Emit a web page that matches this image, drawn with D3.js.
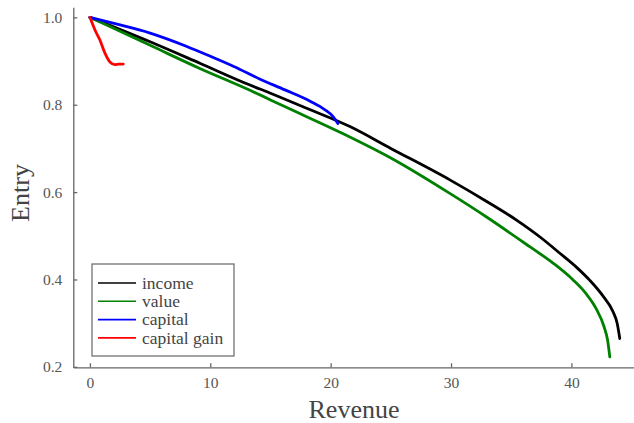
<!DOCTYPE html>
<html>
<head>
<meta charset="utf-8">
<script src="https://cdn.jsdelivr.net/npm/d3@7"></script>
<style>
  body { margin: 0; background: #fff; }
  svg { display: block; font-family: "Liberation Serif", "Times New Roman", serif; }
  .axis path, .axis line { stroke: #666; stroke-width: 1.3; }
</style>
</head>
<body>
<svg id="chart" width="634" height="423"></svg>
<script>
// series values
var incomeX = [0, 5, 9.13, 13.3, 14.95, 18, 21.6, 25, 29.9, 33, 35.44, 37.5, 39.04, 40.5, 41.53, 42.6, 43.46, 43.8, 44.02];
var incomeY = [1.0, 0.944, 0.895, 0.845, 0.827, 0.792, 0.750, 0.700, 0.628, 0.578, 0.536, 0.495, 0.460, 0.426, 0.398, 0.363, 0.326, 0.300, 0.265];

var valueX = [0, 5, 9.13, 13.3, 16, 21.3, 25, 29.9, 32.95, 36.54, 38.5, 40.14, 41.2, 42.08, 42.7, 43.0, 43.19];
var valueY = [1.0, 0.936, 0.883, 0.833, 0.798, 0.730, 0.678, 0.597, 0.543, 0.475, 0.437, 0.399, 0.368, 0.332, 0.293, 0.262, 0.223];

var capitalX = [0, 2, 5, 8, 10, 12, 14.1, 16.2, 18.3, 19.5, 20.2, 20.6];
var capitalY = [1.0, 0.986, 0.964, 0.934, 0.911, 0.887, 0.859, 0.834, 0.808, 0.789, 0.773, 0.757];

var gainX = [0, 0.42, 0.83, 1.25, 1.66, 2.08, 2.4, 2.77];
var gainY = [1.0, 0.971, 0.948, 0.918, 0.898, 0.892, 0.893, 0.893];

var seriesNames = ["income", "value", "capital", "capital gain"];
var seriesColors = ["#000000", "#008000", "#0000ff", "#ff0000"];
var xTicks = [0, 10, 20, 30, 40];
var yTicks = [0.2, 0.4, 0.6, 0.8, 1.0];

var svg = d3.select("#chart");

var xScale = d3.scaleLinear().domain([-1.38, 45.2]).range([73.3, 634]);
var yScale = d3.scaleLinear().domain([0.199, 1.023]).range([367.3, 7.3]);

function zip(xs, ys) {
    return xs.map(function(x, i) { return { x: x, y: ys[i] }; });
}
var series = [
    zip(incomeX, incomeY),
    zip(valueX, valueY),
    zip(capitalX, capitalY),
    zip(gainX, gainY)
];

// axes
var xAxis = d3.axisBottom(xScale).tickValues(xTicks).tickFormat(d3.format("d"))
    .tickSizeInner(-4).tickSizeOuter(0).tickPadding(10);
var gx = svg.append("g")
    .attr("class", "axis x-axis")
    .attr("transform", "translate(0," + yScale.range()[0] + ")")
    .call(xAxis);

var yAxis = d3.axisLeft(yScale).tickValues(yTicks).tickFormat(d3.format(".1f"))
    .tickSizeInner(-4).tickSizeOuter(0).tickPadding(11);
var gy = svg.append("g")
    .attr("class", "axis y-axis")
    .attr("transform", "translate(" + xScale.range()[0] + ",0)")
    .call(yAxis);

[gx, gy].forEach(function(g) {
    g.attr("font-family", null).attr("font-size", null);
    g.selectAll("text")
        .style("font-family", "'Liberation Serif', serif")
        .style("font-size", "15.5px")
        .style("fill", "#555");
});

// lines
var line = d3.line()
    .x(function(d) { return xScale(d.x); })
    .y(function(d) { return yScale(d.y); })
    .curve(d3.curveMonotoneX);

series.forEach(function(s, i) {
    svg.append("path")
        .datum(s)
        .attr("fill", "none")
        .attr("stroke", seriesColors[i])
        .attr("stroke-width", 2.8)
        .attr("stroke-linejoin", "round")
        .attr("stroke-linecap", "round")
        .attr("d", line);
});

// axis titles
svg.append("text")
    .attr("x", 354).attr("y", 418)
    .attr("text-anchor", "middle")
    .attr("fill", "#444")
    .style("font-size", "26px")
    .text("Revenue");

svg.append("text")
    .attr("transform", "translate(29,193) rotate(-90)")
    .attr("text-anchor", "middle")
    .attr("fill", "#444")
    .style("font-size", "26px")
    .text("Entry");

// legend
var legend = svg.append("g").attr("transform", "translate(92,264)");
legend.append("rect")
    .attr("width", 142).attr("height", 92)
    .attr("fill", "#fff")
    .attr("stroke", "#666")
    .attr("stroke-width", 1.2);

seriesNames.forEach(function(name, i) {
    var yy = 19 + i * 18.3;
    legend.append("line")
        .attr("x1", 6).attr("x2", 44)
        .attr("y1", yy).attr("y2", yy)
        .attr("stroke", seriesColors[i])
        .attr("stroke-width", 1.6);
    legend.append("text")
        .attr("x", 50).attr("y", yy)
        .attr("dy", "0.32em")
        .attr("fill", "#444")
        .style("font-size", "17.5px")
        .text(name);
});
</script>
</body>
</html>
